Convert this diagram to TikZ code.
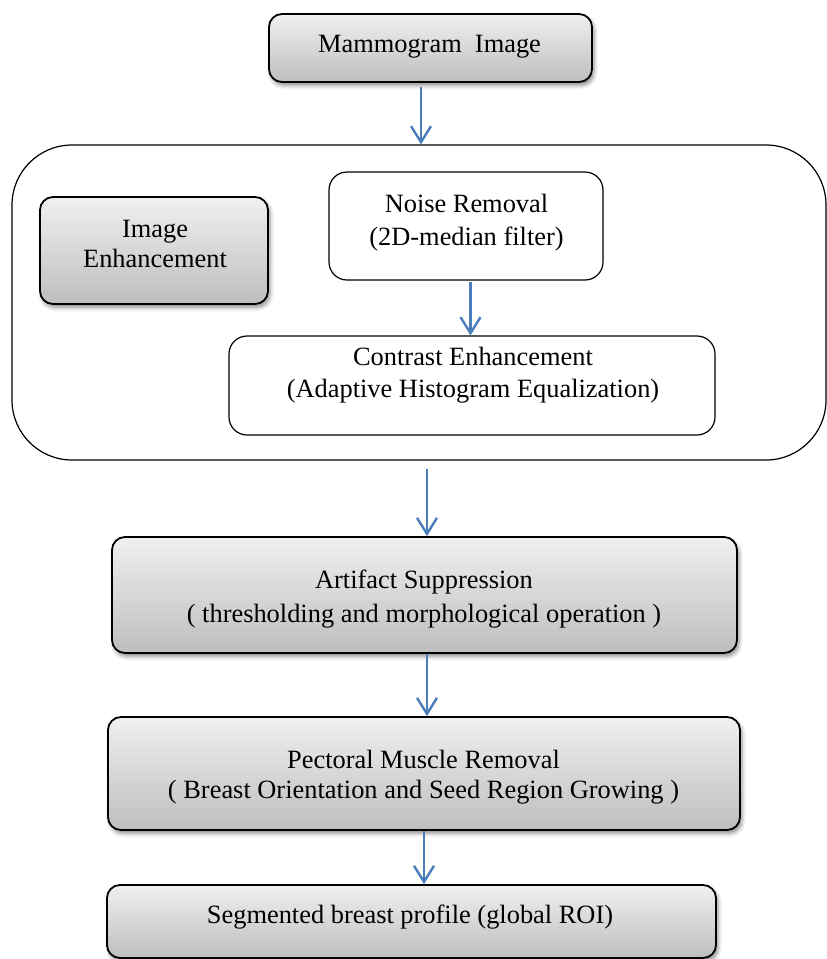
\documentclass[tikz,border=0pt]{standalone}
\usepackage{fontspec}
\setmainfont{Liberation Serif}
\usetikzlibrary{arrows.meta,shadows.blur,calc}

\definecolor{flowblue}{RGB}{74,126,187}
\definecolor{shadetop}{RGB}{240,240,240}
\definecolor{shadebot}{RGB}{190,190,190}

\tikzset{
  graybox/.style={draw=black, line width=1.8pt, rounded corners=13pt,
    top color=shadetop, bottom color=shadebot,
    blur shadow={shadow xshift=2pt, shadow yshift=-3.5pt,
                 shadow blur radius=4pt, shadow opacity=45}},
  whitebox/.style={draw=black, line width=1.2pt, rounded corners=18pt, fill=white},
  groupbox/.style={draw=black, line width=1.2pt, rounded corners=60pt},
  boxtext/.style={align=center, inner sep=0pt, text=black},
  flow/.style={draw=flowblue, line width=2.4pt,
    -{Straight Barb[length=16pt, width=20pt, line width=2.4pt]}}
}

\newcommand{\fs}[1]{\fontsize{26.4}{#1}\selectfont}

\begin{document}
\begin{tikzpicture}[x=1pt, y=-1pt]
  \useasboundingbox (0,0) rectangle (827,959);

  % input image
  \node[graybox, minimum width=323pt, minimum height=68pt] (mam) at (430.5,48) {};
  \node[boxtext, font=\fs{32}] (mamtext) at (429.5,47.2) {Mammogram~~Image};

  % enhancement stage (group)
  \node[groupbox, minimum width=814pt, minimum height=315pt] (outer) at (419,302.5) {};
  \node[graybox, minimum width=228pt, minimum height=107pt] (ie) at (154,250.5) {};
  \node[boxtext, font=\fs{30}] (ietext) at (155,244) {Image\\Enhancement};

  \node[whitebox, minimum width=274pt, minimum height=108pt] (noise) at (466,226) {};
  \node[boxtext, font=\fs{33}] (noisetext) at (466.5,222.5) {Noise Removal\\(2D-median filter)};

  \node[whitebox, minimum width=486pt, minimum height=99pt] (contrast) at (472,385.5) {};
  \node[boxtext, font=\fs{32}] (contrasttext) at (473,375) {Contrast Enhancement\\(Adaptive Histogram Equalization)};

  % later stages
  \node[graybox, minimum width=625pt, minimum height=116pt] (artifact) at (424.5,595) {};
  \node[boxtext, font=\fs{34}] (artifacttext) at (424,599) {Artifact Suppression\\( thresholding and morphological operation )};

  \node[graybox, minimum width=632pt, minimum height=113pt] (pectoral) at (424,773.5) {};
  \node[boxtext, font=\fs{30}] (pectext) at (423.5,777) {Pectoral Muscle Removal\\( Breast Orientation and Seed Region Growing )};

  \node[graybox, minimum width=609pt, minimum height=73pt] (segm) at (411.5,921.5) {};
  \node[boxtext, font=\fs{32}] (segtext) at (410,917) {Segmented breast profile (global ROI)};

  % arrows
  \coordinate (s1) at ($(mam.south)+(-9.5,4)$);
  \draw[flow] (s1) -- (s1 |- outer.north);

  \coordinate (s2) at ($(noise.south)+(4.5,1)$);
  \draw[flow] (s2) -- (s2 |- contrast.north);

  \coordinate (s3) at ($(outer.south)+(8,8)$);
  \draw[flow] (s3) -- (s3 |- artifact.north);

  \coordinate (s4) at ($(artifact.south)+(2.5,0)$);
  \draw[flow] (s4) -- (s4 |- pectoral.north);

  \coordinate (s5) at ($(pectoral.south)+(0,0)$);
  \draw[flow] (s5) -- (s5 |- segm.north);
\end{tikzpicture}
\end{document}
